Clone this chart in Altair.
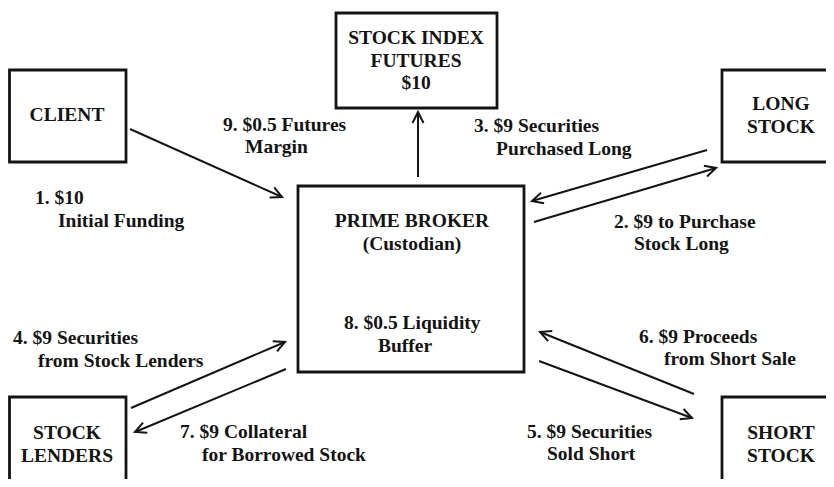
import math
import altair as alt
import pandas as pd

# ---------------- data ----------------
# Boxes (parties) and the text lines inside each
node_names = ["CLIENT", "FUTURES", "LONG", "PRIME", "LENDERS", "SHORT"]
node_lines = [
    ["CLIENT"],
    ["STOCK INDEX", "FUTURES", "$10"],
    ["LONG", "STOCK"],
    ["PRIME BROKER", "(Custodian)"],
    ["STOCK", "LENDERS"],
    ["SHORT", "STOCK"],
]

# Flows: step number, amount, description lines
flow_steps = [1, 2, 3, 4, 5, 6, 7, 8, 9]
flow_amounts = ["$10", "$9", "$9", "$9", "$9", "$9", "$9", "$0.5", "$0.5"]
flow_text_a = ["", "to Purchase", "Securities", "Securities", "Securities",
               "Proceeds", "Collateral", "Liquidity", "Futures"]
flow_text_b = ["Initial Funding", "Stock Long", "Purchased Long", "from Stock Lenders",
               "Sold Short", "from Short Sale", "for Borrowed Stock", "Buffer", "Margin"]

# Arrows: (from party, to party) in the diagram
arrow_from = ["CLIENT", "PRIME", "LONG", "PRIME", "LENDERS", "PRIME", "SHORT", "PRIME"]
arrow_to = ["PRIME", "FUTURES", "PRIME", "LONG", "PRIME", "LENDERS", "PRIME", "SHORT"]

# ---------------- layout (diagram geometry) ----------------
box_geom = {  # x1, x2, y1, y2
    "CLIENT": (9.5, 126, 70, 162),
    "FUTURES": (336, 497, 13, 108),
    "LONG": (722, 850, 70, 162),
    "PRIME": (298, 524, 186, 372),
    "LENDERS": (9.5, 126, 397, 500),
    "SHORT": (722, 850, 397, 500),
}
box_text_pos = {  # center x, first line y
    "CLIENT": (67, 115),
    "FUTURES": (416, 38),
    "LONG": (781, 104),
    "PRIME": (412, 221),
    "LENDERS": (67, 433),
    "SHORT": (781, 433),
}
line_gap = 22.5
arrow_geom = [  # start x, start y, tip x, tip y
    (130, 129, 282, 197),
    (418, 177, 418, 112),
    (707, 150, 532, 201),
    (534, 222, 716, 168),
    (131, 408, 285, 342),
    (286, 369, 135, 432),
    (694, 394, 540, 332),
    (539, 361, 692, 418),
]
flow_label_pos = {  # step -> (x line a, y line a, x line b, y line b)
    1: (35, 198, 58, 221),
    2: (614, 222, 634, 244),
    3: (474, 126, 496, 149),
    4: (13, 338, 38, 361),
    5: (527, 432, 547, 454),
    6: (639, 337, 664, 359),
    7: (180, 432, 202, 455),
    8: (344, 323, 378, 346),
    9: (223, 125, 245, 147),
}

# ---------------- tables ----------------
boxes = pd.DataFrame([
    {"name": n, "x1": box_geom[n][0], "x2": box_geom[n][1], "y1": box_geom[n][2], "y2": box_geom[n][3]}
    for n in node_names
])

text_rows = []
for n, lines in zip(node_names, node_lines):
    cx, cy = box_text_pos[n]
    for i, t in enumerate(lines):
        text_rows.append({"x": cx, "y": cy + i * line_gap, "t": t, "align": "center"})
box_text = pd.DataFrame(text_rows)

label_rows = []
for s, amt, a, b in zip(flow_steps, flow_amounts, flow_text_a, flow_text_b):
    xa, ya, xb, yb = flow_label_pos[s]
    first = f"{s}. {amt}" + (f" {a}" if a else "")
    label_rows.append({"x": xa, "y": ya, "t": first})
    label_rows.append({"x": xb, "y": yb, "t": b})
labels = pd.DataFrame(label_rows)

arrow_rows = []
for f, t, (x0, y0, x1, y1) in zip(arrow_from, arrow_to, arrow_geom):
    ang = math.degrees(math.atan2(y1 - y0, x1 - x0)) % 360
    arrow_rows.append({"from": f, "to": t, "x0": x0, "y0": y0, "x1": x1, "y1": y1, "angle": ang})
arrows = pd.DataFrame(arrow_rows)

# ---------------- chart ----------------
W, H = 818, 471
xs = alt.Scale(domain=[8, 8 + W], nice=False, zero=False)
ys = alt.Scale(domain=[8, 8 + H], nice=False, zero=False, reverse=True)
FONT = "Liberation Serif"
INK = "#141414"
FS = 19.5

rects = alt.Chart(boxes).mark_rect(
    fill=None, fillOpacity=0, stroke=INK, strokeWidth=2.8, clip=True
).encode(
    x=alt.X("x1:Q", scale=xs, axis=None), x2="x2:Q",
    y=alt.Y("y1:Q", scale=ys, axis=None), y2="y2:Q",
)

shafts = alt.Chart(arrows).mark_rule(color=INK, strokeWidth=2).encode(
    x=alt.X("x0:Q", scale=xs, axis=None), x2="x1:Q",
    y=alt.Y("y0:Q", scale=ys, axis=None), y2="y1:Q",
)

heads = alt.Chart(arrows).mark_point(
    shape="M -1 -0.5 L 0 0 L -1 0.5", filled=False, color=INK,
    strokeWidth=2, size=484, opacity=1
).encode(
    x=alt.X("x1:Q", scale=xs, axis=None),
    y=alt.Y("y1:Q", scale=ys, axis=None),
    angle=alt.Angle("angle:Q", scale=None),
)

btext = alt.Chart(box_text).mark_text(
    font=FONT, fontWeight="bold", fontSize=FS, align="center", baseline="middle", color=INK
).encode(
    x=alt.X("x:Q", scale=xs, axis=None), y=alt.Y("y:Q", scale=ys, axis=None), text="t:N"
)

ltext = alt.Chart(labels).mark_text(
    font=FONT, fontWeight="bold", fontSize=FS, align="left", baseline="middle", color=INK
).encode(
    x=alt.X("x:Q", scale=xs, axis=None), y=alt.Y("y:Q", scale=ys, axis=None), text="t:N"
)

chart = alt.layer(rects, shafts, heads, btext, ltext).properties(
    width=W, height=H, padding=0, background="white"
).configure_view(stroke=None)

chart.save("out.html", embed_options={"renderer": "svg", "actions": False})
